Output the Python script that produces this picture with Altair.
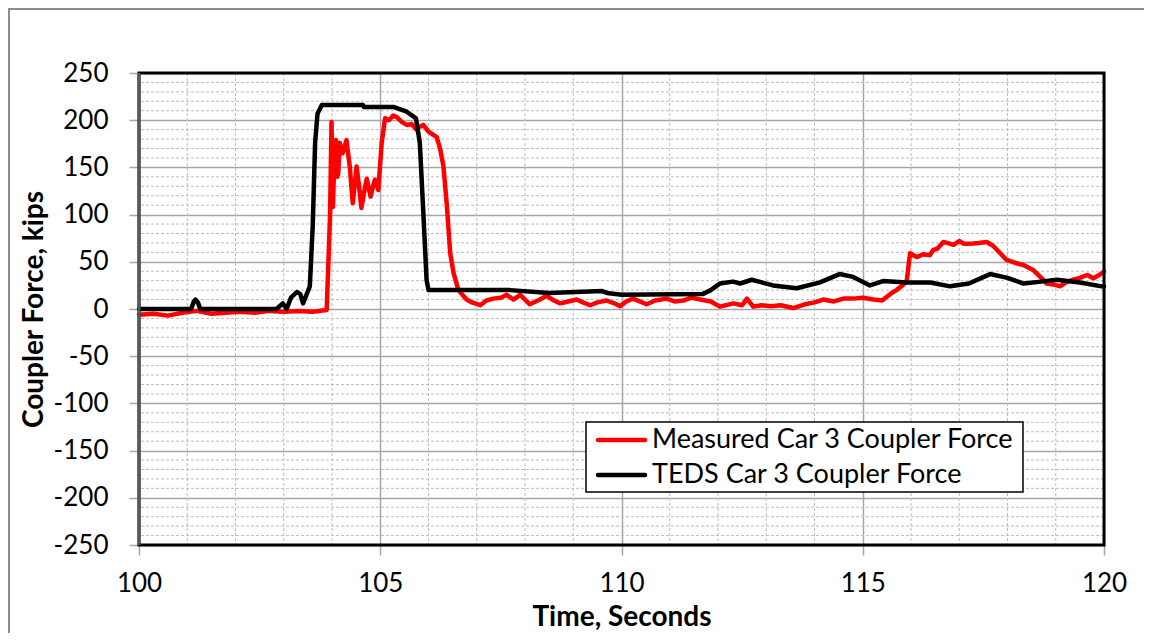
import altair as alt
import pandas as pd

# ---------------- data ----------------
teds_t = [100.0, 101.08, 101.13, 101.17, 101.22, 101.27, 102.85, 102.98, 103.06, 103.15,
          103.27, 103.34, 103.40, 103.54, 103.60, 103.65, 103.70, 103.79, 104.64, 104.66,
          105.27, 105.55, 105.74, 105.82, 105.89, 105.96, 106.0, 107.69, 108.5, 109.6,
          109.7, 110.0, 111.69, 111.85, 112.04, 112.31, 112.46, 112.7, 113.14, 113.63,
          114.1, 114.52, 114.8, 115.15, 115.42, 115.91, 116.4, 116.81, 117.2, 117.64,
          118.0, 118.33, 118.7, 119.02, 119.5, 119.95, 120.0]
teds_v = [0, 0, 7, 10, 7, 0, 0, 6, 0, 12,
          18, 16, 6, 24, 87, 176, 207, 216, 216, 214,
          214, 209, 202, 176, 105, 31, 20, 20, 17, 19,
          17, 15, 16, 20, 27, 29, 27, 31, 25, 22,
          28, 37, 34, 25, 29.6, 28, 28, 24, 27, 37,
          33, 27, 29, 31, 28, 24, 24]

meas_t = [100.0, 100.3, 100.6, 100.9, 101.2, 101.5, 101.8, 102.1, 102.4, 102.7,
          103.0, 103.3, 103.6, 103.89, 103.96, 103.99, 104.02, 104.05, 104.08, 104.11,
          104.13, 104.16, 104.22, 104.30, 104.37, 104.43, 104.51, 104.56, 104.61, 104.67,
          104.72, 104.80, 104.85, 104.89, 104.96, 105.03, 105.10, 105.18, 105.27, 105.35,
          105.45, 105.55, 105.65, 105.75, 105.82, 105.89, 106.0, 106.17, 106.24, 106.31,
          106.38, 106.45, 106.52, 106.62, 106.79, 106.9, 107.07, 107.2, 107.34, 107.5,
          107.62, 107.76, 107.9, 108.1, 108.31, 108.45, 108.6, 108.73, 108.9, 109.07,
          109.2, 109.35, 109.5, 109.69, 109.85, 109.97, 110.1, 110.24, 110.52, 110.7,
          110.93, 111.1, 111.28, 111.45, 111.63, 111.85, 112.04, 112.32, 112.5, 112.6,
          112.73, 112.9, 113.1, 113.3, 113.56, 113.8, 114.0, 114.18, 114.4, 114.6,
          114.8, 115.0, 115.22, 115.4, 115.5, 115.6, 115.7, 115.8, 115.91, 115.98,
          116.05, 116.12, 116.25, 116.39, 116.46, 116.55, 116.67, 116.75, 116.88, 117.0,
          117.1, 117.29, 117.4, 117.57, 117.7, 117.85, 117.98, 118.15, 118.33, 118.54,
          118.7, 118.81, 118.95, 119.09, 119.2, 119.36, 119.5, 119.65, 119.78, 119.9,
          120.0]
meas_v = [-6, -5, -7, -4, -2, -5, -4, -3, -4, -2,
          -3, -2, -3, -1, 100, 198, 108, 165, 179, 140,
          144, 176, 165, 179, 150, 112, 151, 130, 107, 125,
          138, 119, 130, 137, 126, 176, 202, 200, 205, 203,
          198, 195, 196, 190, 193, 195, 188, 182, 170, 151,
          110, 59, 38, 20, 10, 7, 4, 9, 11, 12,
          15, 10, 15, 5, 10, 14, 9, 6, 8, 10,
          7, 4, 7, 9, 6, 3, 8, 11, 5, 9,
          11, 8, 9, 12, 10, 8, 2.5, 6, 4, 11,
          2.5, 4, 3, 4, 1, 5, 7, 10, 8, 11,
          11, 12, 10, 9, 13, 17, 20, 24, 29, 59,
          57, 55, 58, 57, 62.5, 64, 71, 70, 68, 72,
          69, 69.5, 70, 71, 67, 59, 52, 49, 46.6, 41,
          33, 27, 26, 24, 28, 31, 33, 36, 32.5, 36,
          39.5]

series_names = ["Measured Car 3 Coupler Force", "TEDS Car 3 Coupler Force"]
x_ticks = [100, 105, 110, 115, 120]
y_ticks = [-250, -200, -150, -100, -50, 0, 50, 100, 150, 200, 250]
x_minor = [t for t in range(101, 120) if t % 5 != 0]
y_minor = [v for v in range(-240, 250, 10) if v % 50 != 0]

# ---------------- tables ----------------
meas_df = pd.DataFrame({"t": meas_t, "v": meas_v, "s": series_names[0]})
teds_df = pd.DataFrame({"t": teds_t, "v": teds_v, "s": series_names[1]})
xminor_df = pd.DataFrame({"t": x_minor})
yminor_df = pd.DataFrame({"v": y_minor})
one = pd.DataFrame({"a": [0]})

W, H = 965, 472
FONT = "Lato"

xscale = alt.Scale(domain=[100, 120], nice=False, zero=False)
yscale = alt.Scale(domain=[-250, 250], nice=False, zero=False)

xaxis = alt.Axis(values=x_ticks, title="Time, Seconds", grid=True, domain=False,
                 gridColor="#a6a6a6", gridWidth=1.5, tickColor="#a6a6a6", tickWidth=1.5,
                 tickSize=10, labelPadding=15, labelFont=FONT, labelFontSize=26,
                 labelColor="#000000", titleFont=FONT, titleFontSize=28,
                 titleFontWeight="bold", titleColor="#000000", titleY=72,
                 titleBaseline="middle", labelFlush=False,
                 labelExpr="'' + datum.value")
yaxis = alt.Axis(values=y_ticks, title="Coupler Force, kips", grid=True, domain=False,
                 gridColor="#a6a6a6", gridWidth=1.5, tickColor="#a6a6a6", tickWidth=1.5,
                 tickSize=10, labelPadding=21, labelFont=FONT, labelFontSize=26,
                 labelColor="#000000", titleFont=FONT, titleFontSize=28,
                 titleFontWeight="bold", titleColor="#000000", titleX=-105,
                 titleY=H / 2, titleBaseline="middle", titleAngle=270, labelFlush=False,
                 labelExpr="'' + datum.value")

frame = alt.Chart(one).mark_rect(
    fill=None, stroke="#8c8c8c", strokeWidth=2
).encode(x=alt.value(-130), x2=alt.value(W + 60), y=alt.value(-64), y2=alt.value(H + 120))

xminor = alt.Chart(xminor_df).mark_rule(
    color="#bdbdbd", strokeWidth=1, strokeDash=[3, 2]
).encode(x=alt.X("t:Q", scale=xscale, axis=xaxis))

yminor = alt.Chart(yminor_df).mark_rule(
    color="#bdbdbd", strokeWidth=1, strokeDash=[3, 2]
).encode(y=alt.Y("v:Q", scale=yscale, axis=yaxis))

meas_line = alt.Chart(meas_df).mark_line(
    color="#ff0000", strokeWidth=4.5, strokeJoin="round", strokeCap="round"
).encode(x=alt.X("t:Q", scale=xscale, axis=xaxis),
         y=alt.Y("v:Q", scale=yscale, axis=yaxis))

teds_line = alt.Chart(teds_df).mark_line(
    color="#000000", strokeWidth=4.5, strokeJoin="round", strokeCap="round"
).encode(x=alt.X("t:Q", scale=xscale, axis=xaxis),
         y=alt.Y("v:Q", scale=yscale, axis=yaxis))

# plot-area border (black, heavy; left edge dark grey)
border = alt.Chart(one).mark_rect(
    fill=None, stroke="#000000", strokeWidth=3
).encode(x=alt.value(0), x2=alt.value(W), y=alt.value(0), y2=alt.value(H))
left_edge = alt.Chart(one).mark_rule(
    color="#595959", strokeWidth=3
).encode(x=alt.value(0), y=alt.value(0), y2=alt.value(H))

# legend (drawn as a box with two swatches)
LX, LY = 447, 349
leg_box = alt.Chart(one).mark_rect(
    fill="#ffffff", stroke="#000000", strokeWidth=1.5
).encode(x=alt.value(LX), x2=alt.value(LX + 437), y=alt.value(LY), y2=alt.value(LY + 70))
leg_r1 = alt.Chart(one).mark_rule(
    color="#ff0000", strokeWidth=4.5, strokeCap="round"
).encode(x=alt.value(LX + 12), x2=alt.value(LX + 59), y=alt.value(LY + 18))
leg_r2 = alt.Chart(one).mark_rule(
    color="#000000", strokeWidth=4.5, strokeCap="round"
).encode(x=alt.value(LX + 12), x2=alt.value(LX + 59), y=alt.value(LY + 53))
leg_t1 = alt.Chart(one).mark_text(
    text=series_names[0], font=FONT, fontSize=27, align="left", baseline="middle",
    color="#000000"
).encode(x=alt.value(LX + 66), y=alt.value(LY + 18))
leg_t2 = alt.Chart(one).mark_text(
    text=series_names[1], font=FONT, fontSize=27, align="left", baseline="middle",
    color="#000000"
).encode(x=alt.value(LX + 66), y=alt.value(LY + 53))

chart = alt.layer(
    frame, xminor, yminor, meas_line, teds_line, border, left_edge,
    leg_box, leg_r1, leg_r2, leg_t1, leg_t2
).properties(
    width=W, height=H,
    autosize=alt.AutoSizeParams(type="none"),
    padding={"left": 131, "top": 65, "right": 40, "bottom": 88},
    background="#ffffff"
).configure_view(
    stroke=None
)

chart.save("out.html", embed_options={"renderer": "svg", "actions": False})
